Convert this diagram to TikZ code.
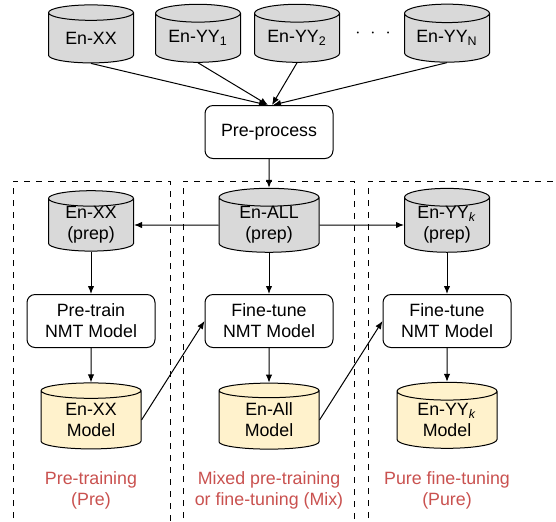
\documentclass[tikz,border=0pt]{standalone}
\usepackage{fontspec}
\setmainfont{Liberation Sans}
\usetikzlibrary{shapes.geometric,arrows.meta}
\definecolor{datagray}{HTML}{D9D9D9}
\definecolor{modelyellow}{HTML}{FFF2CC}
\definecolor{stagered}{HTML}{C9514F}
\begin{document}
\begin{tikzpicture}[
        x=0.5pt, y=-0.5pt,
        font=\fontsize{8.9}{10.4}\selectfont,
        line width=0.5pt,
        >={Latex[length=4pt,width=3.2pt]},
        % cilindri per i dati e per i modelli
        data/.style={
            cylinder,
            shape border rotate=90,
            aspect=0.3,
            draw,
            fill=datagray,
            minimum width=42.5pt,
            minimum height=29pt,
            inner sep=0pt,
            align=center
        },
        model/.style={
            data,
            fill=modelyellow,
            minimum width=50pt,
            minimum height=33pt
        },
        proc/.style={
            draw,
            rounded corners=4pt,
            minimum width=64pt,
            minimum height=26.5pt,
            inner sep=0pt,
            align=center
        },
        stage/.style={
            text=stagered,
            align=center
        },
        frame/.style={
            dashed,
            line width=0.5pt
        }
    ]
    \useasboundingbox (0,0) rectangle (556,521);

    % --- dati grezzi ---
    \node[data] (xx) at (91,38) {En-XX};
    \node[data] (yy1) at (198,38) {En-YY\textsubscript{1}};
    \node[data] (yy2) at (297,38) {En-YY\textsubscript{2}};
    \node[data] (yyn) at (447,38) {En-YY\textsubscript{N}};
    \node (dots) at (373,33) {$\cdot$\hspace{5pt}$\cdot$\hspace{5pt}$\cdot$};

    \node[proc] (pre) at (269,132) {Pre-process};

    \draw[->] (xx.south) -- ([xshift=-1pt]pre.north);
    \draw[->] (yy1.south) -- ([xshift=-0.5pt]pre.north);
    \draw[->] (yy2.south) -- ([xshift=1.5pt]pre.north);
    \draw[->] (yyn.south) -- ([xshift=2pt]pre.north);

    % --- riquadri tratteggiati ---
    \draw[frame] (13,530) -- (13,181) -- (170,181) -- (170,530);
    \draw[frame] (183,530) -- (183,181) -- (354,181) -- (354,530);
    \draw[frame] (368,530) -- (368,181) -- (560,181);

    % --- dati preprocessati ---
    \node[data] (xxp) at (91,225) {En-XX\\(prep)};
    \node[data, minimum width=50pt] (allp) at (269,225) {En-ALL\\(prep)};
    \node[data] (yykp) at (447,225) {En-YY\textsubscript{\textit{k}}\\(prep)};

    \draw[->] (pre) -- (allp);
    \draw[->] (allp) -- (xxp);
    \draw[->] (allp) -- (yykp);

    % --- addestramento ---
    \node[proc] (pretrain) at (91,321) {Pre-train\\NMT Model};
    \node[proc] (ftmix) at (269,321) {Fine-tune\\NMT Model};
    \node[proc] (ftpure) at (447,321) {Fine-tune\\NMT Model};

    \draw[->] (xxp) -- (pretrain);
    \draw[->] (allp) -- (ftmix);
    \draw[->] (yykp) -- (ftpure);

    % --- modelli ---
    \node[model] (mxx) at (91,420) {En-XX\\Model};
    \node[model] (mall) at (269,420) {En-All\\Model};
    \node[model] (myyk) at (447,420) {En-YY\textsubscript{\textit{k}}\\Model};

    \draw[->] (pretrain) -- (mxx);
    \draw[->] (ftmix) -- (mall);
    \draw[->] (ftpure) -- (myyk);
    \draw[->] (mxx.east) -- (ftmix.west);
    \draw[->] (mall.east) -- (ftpure.west);

    % --- etichette delle fasi ---
    \node[stage] (lpre) at (91,490) {Pre-training\\(Pre)};
    \node[stage] (lmix) at (269,490) {Mixed pre-training\\or fine-tuning (Mix)};
    \node[stage] (lpure) at (447,490) {Pure fine-tuning\\(Pure)};

\end{tikzpicture}
\end{document}
